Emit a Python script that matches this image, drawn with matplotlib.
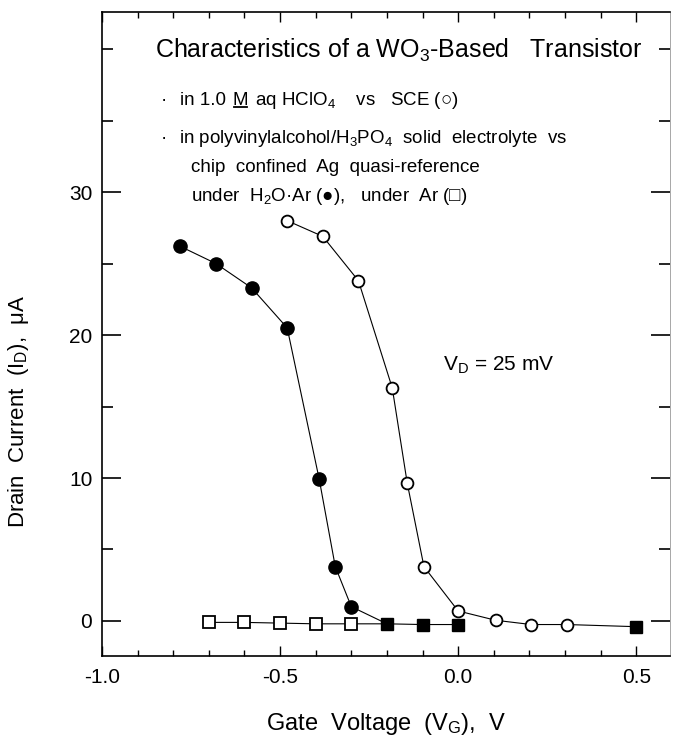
import numpy as np
import matplotlib
matplotlib.use("Agg")
import matplotlib.pyplot as plt
from matplotlib.lines import Line2D
from matplotlib.ticker import MultipleLocator, FixedLocator

plt.rcParams['font.family'] = ['Liberation Sans', 'DejaVu Sans']
plt.rcParams['mathtext.fontset'] = 'custom'
plt.rcParams['mathtext.rm'] = 'Liberation Sans'
plt.rcParams['mathtext.it'] = 'Liberation Sans:italic'
plt.rcParams['mathtext.bf'] = 'Liberation Sans:bold'
plt.rcParams['mathtext.fallback'] = 'stixsans'

# 1.0 M aq HClO4 vs SCE (open circles)
aq_v = [-0.48, -0.38, -0.28, -0.185, -0.143, -0.096, 0.0, 0.105, 0.205, 0.305]
aq_i = [28.0, 26.9, 23.8, 16.3, 9.65, 3.8, 0.7, 0.05, -0.25, -0.25]

# PVA/H3PO4 under H2O/Ar (filled circles)
h2o_v = [-0.78, -0.68, -0.58, -0.48, -0.39, -0.345, -0.30]
h2o_i = [26.2, 25.0, 23.3, 20.5, 9.9, 3.8, 1.0]

# PVA/H3PO4 under Ar (squares)
ar_v = [-0.7, -0.6, -0.5, -0.4, -0.3, -0.2, -0.1, 0.0, 0.5]
ar_i = [-0.1, -0.1, -0.15, -0.2, -0.2, -0.2, -0.25, -0.25, -0.4]
ar_filled = [False, False, False, False, False, True, True, True, True]

xticks = [-1.0, -0.5, 0.0, 0.5]
xticklabels = ['-1.0', '-0.5', '0.0', '0.5']
yticks = [0, 10, 20, 30]

fig = plt.figure(figsize=(6.77, 7.44), dpi=100)
ax = fig.add_axes([0.1507, 0.1183, 0.8390, 0.8656])

lw = 0.8
# connecting curves
ax.plot(np.r_[h2o_v, ar_v[5]], np.r_[h2o_i, ar_i[5]], color='black', lw=lw, zorder=1)
ax.plot(np.r_[aq_v, ar_v[-1]], np.r_[aq_i, ar_i[-1]], color='black', lw=lw, zorder=1)
ax.plot(ar_v[:-1], ar_i[:-1], color='black', lw=lw, zorder=1)

ax.plot(h2o_v, h2o_i, 'o', ms=9.5, color='black', zorder=3)
ax.plot(aq_v, aq_i, 'o', ms=8.5, mfc='white', mec='black', mew=1.3, zorder=3)
sq_v = np.array(ar_v)
sq_i = np.array(ar_i)
mask = np.array(ar_filled)
ax.plot(sq_v[~mask], sq_i[~mask], 's', ms=8, mfc='white', mec='black', mew=1.3, zorder=3)
ax.plot(sq_v[mask], sq_i[mask], 's', ms=8, color='black', zorder=3)

ax.set_xlim(-1.0, 0.595)
ax.set_ylim(-2.45, 42.6)

ax.xaxis.set_major_locator(FixedLocator(xticks))
ax.xaxis.set_minor_locator(MultipleLocator(0.1))
ax.set_xticklabels(xticklabels)
ax.yaxis.set_major_locator(FixedLocator(yticks))
ax.yaxis.set_minor_locator(MultipleLocator(5))

ax.tick_params(axis='x', which='major', direction='in', length=7, width=1, top=True,
               labelsize=15, pad=9)
ax.tick_params(axis='x', which='minor', direction='in', length=4, width=1, top=True)
ax.tick_params(axis='y', which='major', direction='in', length=14, width=1.2, right=True,
               labelsize=15, pad=7)
ax.tick_params(axis='y', which='minor', direction='in', length=8, width=1.2, right=True)

for s in ['left', 'bottom', 'top']:
    ax.spines[s].set_linewidth(1.2)
ax.spines['right'].set_linewidth(0.6)
ax.spines['right'].set_color('0.6')

ax.set_xlabel(r'Gate  Voltage  (V$_\mathrm{G}$),  V', fontsize=17)
ax.xaxis.set_label_coords(0.50, -0.085)
ax.set_ylabel(r'Drain  Current  (I$_\mathrm{D}$),  μA', fontsize=16)
ax.yaxis.set_label_coords(-0.125, 0.38)

ax.text(0.093, 0.941, r'Characteristics of a WO$_\mathrm{3}$-Based   Transistor',
        transform=ax.transAxes, fontsize=18, va='center')

fs = 13.5
ax.text(0.103, 0.863, '·', transform=ax.transAxes, fontsize=fs, va='center')
ax.text(0.103, 0.803, '·', transform=ax.transAxes, fontsize=fs, va='center')

# first legend line: "M" underlined, built from three pieces
renderer = fig.canvas.get_renderer()
inv = ax.transAxes.inverted()
t_a = ax.text(0.137, 0.863, 'in 1.0', transform=ax.transAxes, fontsize=fs, va='center')
bb_a = t_a.get_window_extent(renderer)
gap = 7
xm = inv.transform((bb_a.x1 + gap, 0))[0]
t_m = ax.text(xm, 0.863, 'M', transform=ax.transAxes, fontsize=fs, va='center')
bb_m = t_m.get_window_extent(renderer)
p0 = inv.transform((bb_m.x0 + 1, bb_m.y0 + 2))
p1 = inv.transform((bb_m.x1 - 1, bb_m.y0 + 2))
ax.add_line(Line2D([p0[0], p1[0]], [p0[1], p1[1]], transform=ax.transAxes,
                   color='black', lw=1.3, clip_on=False))
xr = inv.transform((bb_m.x1 + gap, 0))[0]
ax.text(xr, 0.863, r'aq HClO$_\mathrm{4}$    vs   SCE (○)',
        transform=ax.transAxes, fontsize=fs, va='center')

ax.text(0.135, 0.803, r'in polyvinylalcohol/H$_\mathrm{3}$PO$_\mathrm{4}$  solid  electrolyte  vs',
        transform=ax.transAxes, fontsize=fs, va='center')
ax.text(0.157, 0.759, 'chip  confined  Ag  quasi-reference',
        transform=ax.transAxes, fontsize=fs, va='center')
ax.text(0.157, 0.714, r'under  H$_\mathrm{2}$O·Ar (●),   under  Ar (□)',
        transform=ax.transAxes, fontsize=fs, va='center')
ax.text(0.60, 0.452, r'V$_\mathrm{D}$ = 25 mV', transform=ax.transAxes, fontsize=15,
        va='center')

fig.savefig('out.png', dpi=100)
